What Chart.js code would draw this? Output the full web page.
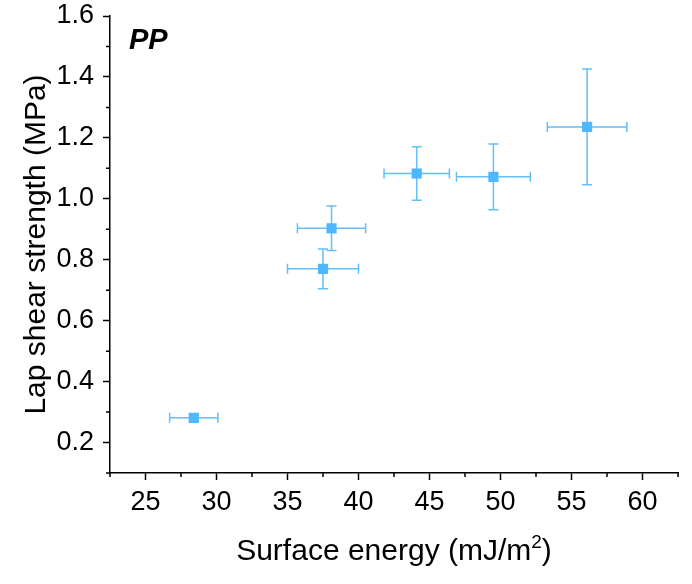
<!DOCTYPE html>
<html>
<head>
<meta charset="utf-8">
<script src="https://cdn.jsdelivr.net/npm/chart.js@4"></script>
<style>
  html, body { margin: 0; padding: 0; background: #fff; }
  #wrap { width: 692px; height: 584px; }
</style>
</head>
<body>
<div id="wrap"><canvas id="lapChart" width="692" height="584"></canvas></div>
<script>
// values
const surfaceEnergy = [28.4, 37.5, 38.1, 44.1, 49.5, 56.1];
const surfaceEnergyErr = [1.7, 2.5, 2.4, 2.3, 2.6, 2.8];
const lapShear = [0.281, 0.77, 0.903, 1.083, 1.072, 1.236];
const lapShearErr = [0.012, 0.065, 0.073, 0.088, 0.108, 0.19];
const panelLabel = 'PP';
const xTitle = ['Surface energy (mJ/m', '2', ')'];

const FONT = 'Arial, "Liberation Sans", sans-serif';
const MARK = '#4db8ff';
const BAR = '#62bff8';

// error bars behind the squares
const errorBars = {
  id: 'errorBars',
  beforeDatasetsDraw(chart) {
    const { ctx, scales: { x, y } } = chart;
    const cap = 5;
    ctx.save();
    ctx.strokeStyle = BAR;
    ctx.lineWidth = 1.5;
    surfaceEnergy.forEach((sx, i) => {
      const px = x.getPixelForValue(sx);
      const py = y.getPixelForValue(lapShear[i]);
      const x0 = x.getPixelForValue(sx - surfaceEnergyErr[i]);
      const x1 = x.getPixelForValue(sx + surfaceEnergyErr[i]);
      const y0 = y.getPixelForValue(lapShear[i] - lapShearErr[i]);
      const y1 = y.getPixelForValue(lapShear[i] + lapShearErr[i]);
      ctx.beginPath();
      ctx.moveTo(x0, py); ctx.lineTo(x1, py);
      ctx.moveTo(x0, py - cap); ctx.lineTo(x0, py + cap);
      ctx.moveTo(x1, py - cap); ctx.lineTo(x1, py + cap);
      ctx.moveTo(px, y0); ctx.lineTo(px, y1);
      ctx.moveTo(px - cap, y0); ctx.lineTo(px + cap, y0);
      ctx.moveTo(px - cap, y1); ctx.lineTo(px + cap, y1);
      ctx.stroke();
    });
    ctx.restore();
  }
};

// short minor ticks, panel label, x title with superscript
const extras = {
  id: 'extras',
  afterDraw(chart) {
    const { ctx, chartArea, scales: { x, y } } = chart;
    ctx.save();
    ctx.strokeStyle = '#000';
    ctx.lineWidth = 1.5;
    ctx.beginPath();
    x.ticks.forEach(t => {
      if (Math.round(t.value * 2) % 10 !== 0) {
        const p = x.getPixelForValue(t.value);
        ctx.moveTo(p, chartArea.bottom); ctx.lineTo(p, chartArea.bottom + 4);
      }
    });
    y.ticks.forEach(t => {
      if (Math.round(t.value * 10) % 2 !== 0) {
        const p = y.getPixelForValue(t.value);
        ctx.moveTo(chartArea.left, p); ctx.lineTo(chartArea.left - 4, p);
      }
    });
    ctx.stroke();

    ctx.fillStyle = '#000';
    ctx.font = 'italic bold 29px ' + FONT;
    ctx.textBaseline = 'alphabetic';
    ctx.fillText(panelLabel, chartArea.left + 19, chartArea.top + 33);

    // x title
    const big = '30px ' + FONT, small = '19px ' + FONT;
    ctx.font = big;
    const w0 = ctx.measureText(xTitle[0]).width;
    const w2 = ctx.measureText(xTitle[2]).width;
    ctx.font = small;
    const w1 = ctx.measureText(xTitle[1]).width;
    const base = 560;
    let cx = (chartArea.left + chartArea.right) / 2 - (w0 + w1 + w2) / 2;
    ctx.textAlign = 'left';
    ctx.font = big;
    ctx.fillText(xTitle[0], cx, base);
    cx += w0;
    ctx.font = small;
    ctx.fillText(xTitle[1], cx, base - 12);
    cx += w1;
    ctx.font = big;
    ctx.fillText(xTitle[2], cx, base);
    ctx.restore();
  }
};

new Chart(document.getElementById('lapChart').getContext('2d'), {
  type: 'scatter',
  data: {
    datasets: [{
      label: panelLabel,
      data: surfaceEnergy.map((v, i) => ({ x: v, y: lapShear[i] })),
      pointStyle: 'rect',
      pointRadius: 7.2,
      pointHoverRadius: 7.2,
      backgroundColor: MARK,
      borderColor: MARK,
      borderWidth: 0
    }]
  },
  options: {
    responsive: false,
    animation: false,
    layout: { padding: { top: 16, right: 14, left: 0, bottom: 0 } },
    plugins: { legend: { display: false }, tooltip: { enabled: false } },
    scales: {
      x: {
        type: 'linear',
        min: 22.5,
        max: 62.5,
        afterFit: s => { s.height = 111; s.paddingLeft = 0; s.paddingRight = 0; },
        border: { color: '#000', width: 1.5 },
        grid: {
          drawOnChartArea: false,
          tickLength: 7,
          tickWidth: 1.5,
          tickColor: c => (Math.round(c.tick.value * 2) % 10 === 0 ? '#000' : 'rgba(0,0,0,0)')
        },
        ticks: {
          stepSize: 2.5,
          autoSkip: false,
          maxRotation: 0,
          padding: 6,
          color: '#000',
          font: { family: FONT, size: 27 },
          callback: v => (Math.round(v * 2) % 10 === 0 ? String(Math.round(v)) : '')
        },
        title: { display: false }
      },
      y: {
        type: 'linear',
        min: 0.1,
        max: 1.6,
        afterFit: s => { s.width = 110; s.paddingTop = 0; s.paddingBottom = 0; },
        border: { color: '#000', width: 1.5 },
        grid: {
          drawOnChartArea: false,
          tickLength: 7,
          tickWidth: 1.5,
          tickColor: c => (Math.round(c.tick.value * 10) % 2 === 0 ? '#000' : 'rgba(0,0,0,0)')
        },
        ticks: {
          stepSize: 0.1,
          autoSkip: false,
          padding: 9,
          color: '#000',
          font: { family: FONT, size: 27 },
          callback: v => (Math.round(v * 10) % 2 === 0 ? v.toFixed(1) : '')
        },
        title: {
          display: true,
          text: 'Lap shear strength (MPa)',
          color: '#000',
          font: { family: FONT, size: 30, lineHeight: 1.2 },
          padding: { top: 19, bottom: 0 }
        }
      }
    }
  },
  plugins: [errorBars, extras]
});
</script>
</body>
</html>
